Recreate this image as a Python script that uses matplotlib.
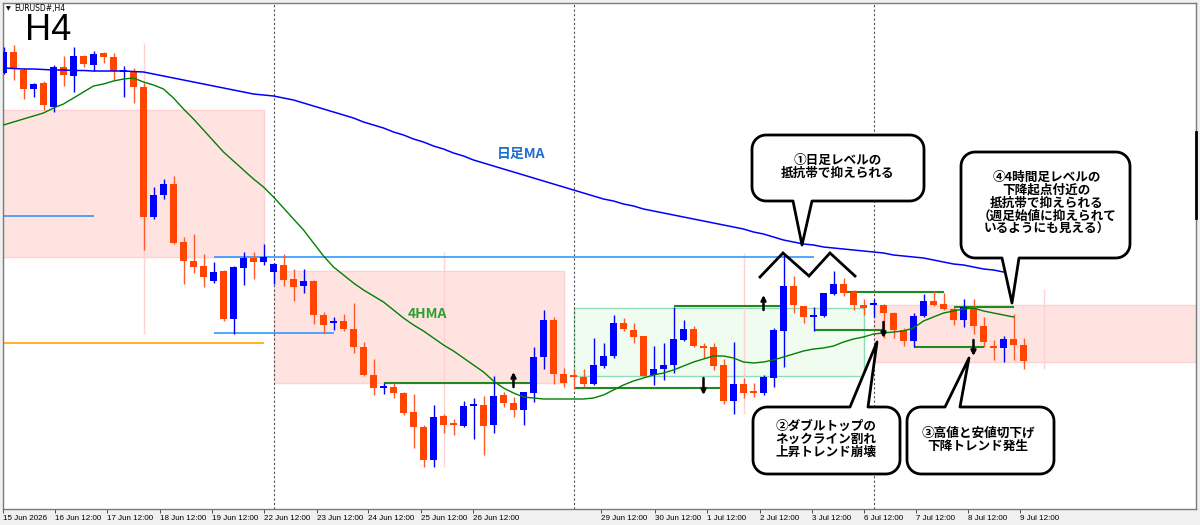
import numpy as np
import matplotlib
matplotlib.use("Agg")
import matplotlib.pyplot as plt
import matplotlib.transforms as mtransforms
from matplotlib.patches import Polygon, Rectangle

plt.rcParams['font.family'] = ['Noto Sans CJK JP', 'DejaVu Sans']

# EURUSD H4 candles (bar index 0..102)
opens = [1.1927, 1.1948, 1.1930, 1.1911, 1.1917, 1.1893, 1.1933, 1.1924, 1.1944, 1.1935,
         1.1947, 1.1943, 1.1928, 1.1929, 1.1913, 1.1783, 1.1805, 1.1816, 1.1758, 1.1739,
         1.1734, 1.1719, 1.1729, 1.1681, 1.1732, 1.1742, 1.1738, 1.1728, 1.1735, 1.1721,
         1.1714, 1.1719, 1.1685, 1.1677, 1.1679, 1.1671, 1.1653, 1.1625, 1.1612, 1.1613,
         1.1607, 1.1588, 1.1573, 1.1540, 1.1584, 1.1577, 1.1574, 1.1594, 1.1595, 1.1575,
         1.1605, 1.1597, 1.1590, 1.1607, 1.1643, 1.1680, 1.1626, 1.1624, 1.1623, 1.1616,
         1.1634, 1.1644, 1.1677, 1.1670, 1.1664, 1.1625, 1.1631, 1.1635, 1.1660, 1.1671,
         1.1653, 1.1653, 1.1635, 1.1599, 1.1616, 1.1608, 1.1607, 1.1622, 1.1669, 1.1714,
         1.1694, 1.1683, 1.1684, 1.1706, 1.1716, 1.1708, 1.1695, 1.1695, 1.1695, 1.1687,
         1.1670, 1.1659, 1.1684, 1.1699, 1.1696, 1.1691, 1.1680, 1.1693, 1.1674, 1.1653,
         1.1652, 1.1661, 1.1655]
highs = [1.1953, 1.1955, 1.1932, 1.1917, 1.1919, 1.1935, 1.1944, 1.1953, 1.1945, 1.1949,
         1.1948, 1.1947, 1.1934, 1.1932, 1.1917, 1.1813, 1.1821, 1.1824, 1.1763, 1.1766,
         1.1746, 1.1738, 1.1730, 1.1734, 1.1748, 1.1748, 1.1756, 1.1737, 1.1746, 1.1731,
         1.1731, 1.1720, 1.1688, 1.1683, 1.1686, 1.1697, 1.1658, 1.1641, 1.1617, 1.1617,
         1.1608, 1.1606, 1.1575, 1.1595, 1.1586, 1.1581, 1.1599, 1.1602, 1.1604, 1.1624,
         1.1608, 1.1603, 1.1608, 1.1653, 1.1690, 1.1683, 1.1632, 1.1630, 1.1631, 1.1662,
         1.1657, 1.1685, 1.1682, 1.1677, 1.1664, 1.1654, 1.1657, 1.1693, 1.1680, 1.1674,
         1.1657, 1.1657, 1.1641, 1.1658, 1.1622, 1.1617, 1.1625, 1.1672, 1.1745, 1.1724,
         1.1694, 1.1693, 1.1707, 1.1729, 1.1722, 1.1710, 1.1701, 1.1701, 1.1696, 1.1688,
         1.1672, 1.1687, 1.1706, 1.1709, 1.1707, 1.1693, 1.1701, 1.1701, 1.1683, 1.1660,
         1.1664, 1.1686, 1.1662]
lows = [1.1926, 1.1920, 1.1901, 1.1903, 1.1890, 1.1888, 1.1914, 1.1908, 1.1933, 1.1929,
        1.1937, 1.1920, 1.1903, 1.1897, 1.1750, 1.1781, 1.1801, 1.1756, 1.1716, 1.1727,
        1.1713, 1.1717, 1.1679, 1.1666, 1.1715, 1.1721, 1.1735, 1.1716, 1.1714, 1.1699,
        1.1707, 1.1676, 1.1667, 1.1670, 1.1669, 1.1647, 1.1624, 1.1605, 1.1606, 1.1602,
        1.1585, 1.1552, 1.1533, 1.1533, 1.1567, 1.1565, 1.1573, 1.1561, 1.1545, 1.1567,
        1.1593, 1.1583, 1.1575, 1.1598, 1.1631, 1.1616, 1.1613, 1.1611, 1.1613, 1.1615,
        1.1632, 1.1642, 1.1669, 1.1657, 1.1624, 1.1615, 1.1620, 1.1627, 1.1659, 1.1653,
        1.1642, 1.1630, 1.1596, 1.1586, 1.1602, 1.1603, 1.1605, 1.1613, 1.1633, 1.1687,
        1.1677, 1.1669, 1.1683, 1.1705, 1.1704, 1.1690, 1.1685, 1.1683, 1.1662, 1.1662,
        1.1654, 1.1653, 1.1683, 1.1694, 1.1690, 1.1675, 1.1673, 1.1666, 1.1653, 1.1640,
        1.1638, 1.1640, 1.1631]
closes = [1.1948, 1.1932, 1.1911, 1.1916, 1.1895, 1.1933, 1.1925, 1.1944, 1.1936, 1.1946,
          1.1943, 1.1929, 1.1929, 1.1913, 1.1783, 1.1805, 1.1816, 1.1757, 1.1739, 1.1733,
          1.1723, 1.1728, 1.1681, 1.1733, 1.1742, 1.1738, 1.1743, 1.1736, 1.1720, 1.1713,
          1.1719, 1.1685, 1.1675, 1.1679, 1.1671, 1.1653, 1.1625, 1.1612, 1.1613, 1.1607,
          1.1587, 1.1573, 1.1540, 1.1583, 1.1575, 1.1575, 1.1594, 1.1595, 1.1574, 1.1604,
          1.1597, 1.1590, 1.1608, 1.1643, 1.1680, 1.1626, 1.1617, 1.1623, 1.1616, 1.1635,
          1.1644, 1.1677, 1.1671, 1.1663, 1.1624, 1.1631, 1.1635, 1.1661, 1.1671, 1.1654,
          1.1652, 1.1634, 1.1599, 1.1616, 1.1607, 1.1607, 1.1623, 1.1670, 1.1714, 1.1695,
          1.1683, 1.1685, 1.1707, 1.1716, 1.1707, 1.1695, 1.1692, 1.1696, 1.1687, 1.1670,
          1.1659, 1.1684, 1.1699, 1.1695, 1.1691, 1.1680, 1.1693, 1.1674, 1.1658, 1.1652,
          1.1661, 1.1655, 1.1639]

# 4H moving average (green) and daily MA (blue)
ma_4h = [1.1875, 1.1878, 1.1881, 1.1884, 1.1887, 1.1892, 1.1896, 1.1902, 1.1908, 1.1914,
         1.1916, 1.1919, 1.1921, 1.1922, 1.1918, 1.1915, 1.1911, 1.1902, 1.1891, 1.1881,
         1.1870, 1.1859, 1.1848, 1.1839, 1.1830, 1.1821, 1.1813, 1.1803, 1.1792, 1.1781,
         1.1770, 1.1757, 1.1744, 1.1733, 1.1725, 1.1717, 1.1710, 1.1704, 1.1698, 1.1690,
         1.1682, 1.1675, 1.1669, 1.1662, 1.1655, 1.1649, 1.1642, 1.1635, 1.1628, 1.1619,
         1.1612, 1.1607, 1.1603, 1.1602, 1.1601, 1.1601, 1.1601, 1.1601, 1.1601, 1.1602,
         1.1605, 1.1610, 1.1615, 1.1619, 1.1622, 1.1625, 1.1627, 1.1630, 1.1634, 1.1638,
         1.1641, 1.1644, 1.1644, 1.1642, 1.1638, 1.1637, 1.1638, 1.1640, 1.1643, 1.1646,
         1.1649, 1.1651, 1.1652, 1.1654, 1.1658, 1.1661, 1.1663, 1.1666, 1.1667, 1.1668,
         1.1669, 1.1672, 1.1679, 1.1683, 1.1687, 1.1689, 1.1691, 1.1692, 1.1689, 1.1687,
         1.1685, 1.1683]
ma_daily = [1.1932, 1.19315, 1.1931, 1.1931, 1.19305, 1.1930, 1.1930, 1.19295, 1.19295, 1.1929,
            1.1929, 1.1929, 1.1929, 1.19285, 1.1928, 1.1926, 1.1924, 1.1922, 1.1920, 1.1918,
            1.1916, 1.1914, 1.1912, 1.1910, 1.1908, 1.1906, 1.1905, 1.1904, 1.1902, 1.1900,
            1.1897, 1.1894, 1.1891, 1.1888, 1.1885, 1.1882, 1.1878, 1.1875, 1.1872, 1.1868,
            1.1865, 1.1861, 1.1858, 1.1854, 1.1851, 1.1847, 1.1844, 1.1840, 1.1837, 1.1834,
            1.1831, 1.1828, 1.1825, 1.1822, 1.1819, 1.1816, 1.1813, 1.1810, 1.1807, 1.1804,
            1.1801, 1.1799, 1.1796, 1.1794, 1.1791, 1.1789, 1.1787, 1.1785, 1.1783, 1.1781,
            1.1779, 1.1777, 1.1775, 1.1773, 1.1771, 1.1768, 1.1766, 1.1763, 1.1760, 1.1758,
            1.1756, 1.1755, 1.1753, 1.1752, 1.1751, 1.1750, 1.1749, 1.1748, 1.1747, 1.1745,
            1.1744, 1.1743, 1.1742, 1.1740, 1.1738, 1.1736, 1.1735, 1.1733, 1.1731, 1.1730,
            1.1728]

# resistance / support zones: (first bar, last bar, top, bottom)
pink_zones = [(-0.5, 26, 1.1890, 1.1743),
              (27, 56, 1.1729, 1.1617),
              (87, 125, 1.1695, 1.1638)]
green_zone = (57, 86, 1.1692, 1.1624)

# horizontal levels: (from bar, to bar, price)
blue_levels = [(-0.5, 9, 1.1784), (21, 81, 1.1743), (21, 33, 1.1667)]
orange_levels = [(-0.5, 26, 1.1657)]
green_levels = [(38, 53, 1.1617), (57, 72, 1.1612), (67, 78, 1.1694), (81, 88, 1.1670),
                (84.3, 94, 1.1708), (91, 98, 1.1653), (95, 101, 1.1693)]

# arrows: (bar, from price, to price)
arrows = [(51, 1.1613, 1.1628), (70, 1.1622, 1.1605), (76, 1.1690, 1.1705),
          (88, 1.1678, 1.1662), (97, 1.1660, 1.1644)]

# double top sketch
w_bars = [75.65, 77.95, 80.55, 82.65, 85.15]
w_prices = [1.1723, 1.1747, 1.1724, 1.1747, 1.1724]

week_starts = [-3, 27, 57, 87]

tick_bars = [-0.05, 5.15, 10.35, 15.65, 20.85, 26.05, 31.35, 36.45, 41.75, 46.95,
             59.75, 65.15, 70.35, 75.65, 80.85, 86.05, 91.25, 96.45, 101.65]
tick_labels = ['15 Jun 2026', '16 Jun 12:00', '17 Jun 12:00', '18 Jun 12:00', '19 Jun 12:00',
               '22 Jun 12:00', '23 Jun 12:00', '24 Jun 12:00', '25 Jun 12:00', '26 Jun 12:00',
               '29 Jun 12:00', '30 Jun 12:00', '1 Jul 12:00', '2 Jul 12:00', '3 Jul 12:00',
               '6 Jul 12:00', '7 Jul 12:00', '8 Jul 12:00', '9 Jul 12:00']

BULL = '#0000ff'
BEAR = '#ff4500'

W, H = 1200, 525
fig = plt.figure(figsize=(W / 100, H / 100), dpi=100, facecolor='#f0f0f0')
ax = fig.add_axes([3 / W, 1 - 509 / H, 1193 / W, 506 / H])
ax.set_facecolor('white')
ax.set_xlim(-0.05, 119.25)
ax.set_ylim(1.1491, 1.1997)
# pixel transform (origin top-left) for annotation boxes
pix = mtransforms.Affine2D().scale(1 / W, -1 / H).translate(0, 1) + fig.transFigure

# zones
for x0, x1, top, bot in pink_zones:
    ax.add_patch(Rectangle((x0, bot), x1 - x0, top - bot, fc='#ffe3e1', ec='#fcd2d2',
                           lw=1, zorder=1))
gx0, gx1, gtop, gbot = green_zone
ax.add_patch(Rectangle((gx0, gbot), gx1 - gx0, gtop - gbot, fc='#effcef', ec='#8fdcb8',
                       lw=1, zorder=1))

# weekly high-low markers
o = np.array(opens)
c = np.array(closes)
hi = np.array(highs)
lo = np.array(lows)
for s in week_starts:
    a = max(s, 0)
    b = s + 30
    ax.vlines(s + 17, lo[a:b].min(), hi[a:b].max() + 0.0002, color='#fcd2d2', lw=1,
              zorder=1.5)

# week separators
for s in week_starts[1:]:
    ax.axvline(s, color='#505050', lw=0.8, ls=(0, (2, 2)), zorder=1.6)

for x0, x1, p in blue_levels:
    ax.hlines(p, x0, x1, color='#1e90ff', lw=1.1, zorder=2)
for x0, x1, p in orange_levels:
    ax.hlines(p, x0, x1, color='#ffa500', lw=1.2, zorder=2)
for x0, x1, p in green_levels:
    ax.hlines(p, x0, x1, color='#1f8a1f', lw=1.5, zorder=2)

# candles
x = np.arange(len(opens))
cols = np.where(c >= o, BULL, BEAR)
wick_cols = np.where(c >= o, BULL, '#ff5a28')
ax.vlines(x, lo, hi, colors=wick_cols, lw=1.0, zorder=4)
body_h = np.maximum(np.abs(c - o), 0.00016)
ax.bar(x, body_h, bottom=np.minimum(o, c), width=0.64, color=cols, lw=0, zorder=5)

# moving averages
ax.plot(np.arange(len(ma_daily)), ma_daily, color='#0000ff', lw=1.1, zorder=6)
ax.plot(np.arange(len(ma_4h)), ma_4h, color='#008000', lw=1.0, zorder=6)

ax.text(51.8, 1.1846, '日足MA', color='#1f6fd0', fontsize=10, fontweight='bold',
        ha='center', va='center', zorder=8)
ax.text(42.4, 1.1686, '4HMA', color='#2e9e2e', fontsize=10, fontweight='bold',
        ha='center', va='center', zorder=8)

for b, p0, p1 in arrows:
    ax.annotate('', xy=(b, p1), xytext=(b, p0),
                arrowprops=dict(arrowstyle='->', lw=1.8, color='black',
                                mutation_scale=7, shrinkA=0, shrinkB=0), zorder=8)

ax.plot(w_bars, w_prices, color='black', lw=2, zorder=8, solid_joinstyle='miter')


def bubble(x0, y0, x1, y1, side, a, b, tip, r=14):
    def arc(cx, cy, t0, t1):
        t = np.radians(np.linspace(t0, t1, 10))
        return list(zip(cx + r * np.cos(t), cy + r * np.sin(t)))
    pts = []
    pts += arc(x0 + r, y0 + r, 180, 270)
    if side == 'top':
        pts += [(a, y0), tip, (b, y0)]
    pts += arc(x1 - r, y0 + r, 270, 360)
    pts += arc(x1 - r, y1 - r, 0, 90)
    if side == 'bottom':
        pts += [(b, y1), tip, (a, y1)]
    pts += arc(x0 + r, y1 - r, 90, 180)
    ax.add_patch(Polygon(pts, closed=True, transform=pix, fc='white', ec='black',
                         lw=2, joinstyle='round', zorder=10, clip_on=False))


bubble(752, 135, 924, 201, 'bottom', 793, 812, (802, 245))
bubble(961, 152, 1130, 258, 'bottom', 1002, 1019, (1012, 303))
bubble(753, 407, 900, 474, 'top', 850, 868, (877, 342))
bubble(907, 407, 1054, 474, 'top', 945, 960, (969, 358))

txt = dict(transform=pix, ha='center', va='center', fontsize=9.1, fontweight='bold',
           linespacing=1.0, zorder=11)
ax.text(838, 167, '①日足レベルの\n抵抗帯で抑えられる', **txt)
ax.text(1047, 203, '④4時間足レベルの\n下降起点付近の\n抵抗帯で抑えられる\n（週足始値に抑えられて\nいるようにも見える）', **txt)
ax.text(826, 439, '②ダブルトップの\nネックライン割れ\n上昇トレンド崩壊', **txt)
ax.text(978, 440, '③高値と安値切下げ\n下降トレンド発生', **txt)

ax.text(25, 30, 'H4', transform=pix, fontsize=26, family='Liberation Sans',
        ha='left', va='center', zorder=11)
ax.text(6, 9, '▼', transform=pix, fontsize=4.5, family='DejaVu Sans', ha='left',
        va='center', zorder=11)
ax.text(14, 9, 'EURUSD#,H4', transform=pix, fontsize=5.5, family='DejaVu Sans',
        ha='left', va='center', zorder=11)
ax.plot([1196, 1196], [132, 218], transform=pix, color='black', lw=2, clip_on=False,
        zorder=11)

ax.set_yticks([])
ax.set_xticks(tick_bars)
ax.set_xticklabels(tick_labels, ha='left', fontsize=5.8, family='Liberation Sans')
ax.tick_params(axis='x', length=3, width=0.6, pad=1.5, color='#333333')
for sp in ax.spines.values():
    sp.set_color('#7a7a7a')
    sp.set_linewidth(1.0)

fig.savefig('out.png', dpi=100, facecolor=fig.get_facecolor())
